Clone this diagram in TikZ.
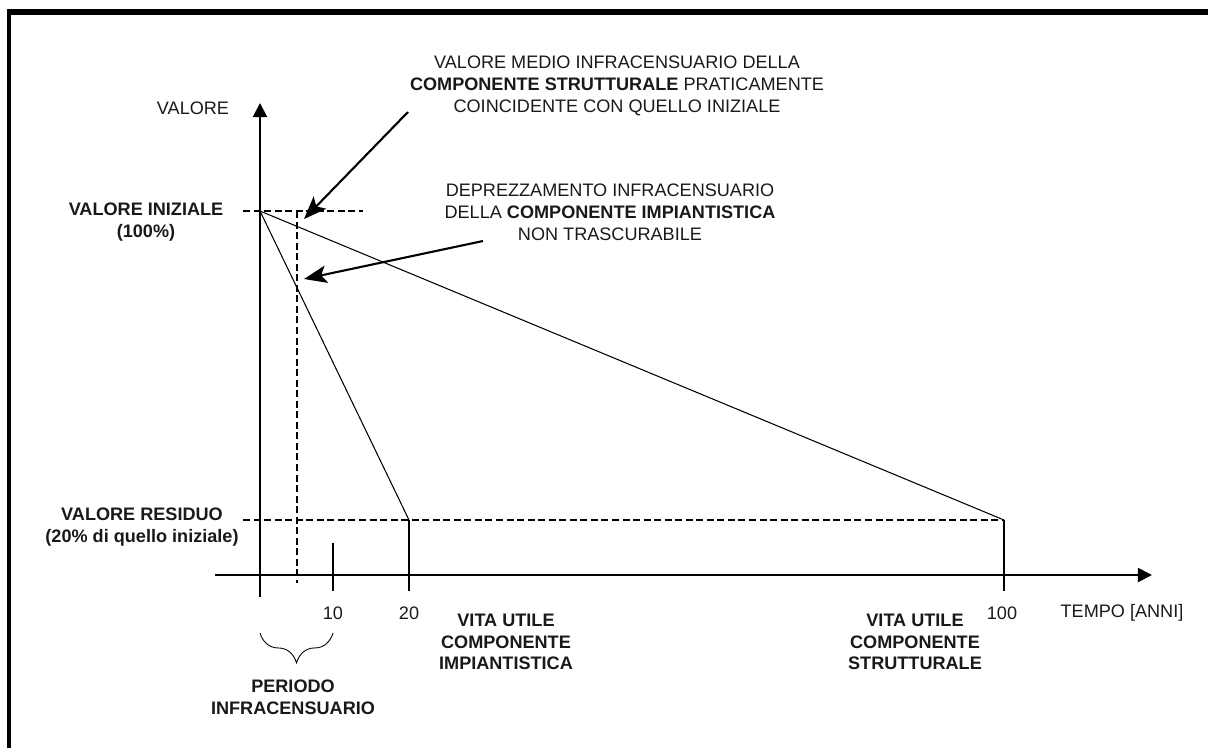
\documentclass[tikz,border=0pt]{standalone}
\usepackage{fontspec}
\setmainfont{Liberation Sans}
\usetikzlibrary{arrows.meta}
\usetikzlibrary{decorations.pathreplacing}

\begin{document}
\begin{tikzpicture}[x=0.02cm, y=-0.02cm, font=\fontsize{10.3}{12.4}\selectfont]
        % Definizione dei colori e degli stili
        \definecolor{testo}{RGB}{25,25,25}
        \tikzset{
            asse/.style={line width=1.1pt, -{Triangle[length=8pt,width=8pt]}},
            retta/.style={line width=0.6pt},
            tratteggio/.style={line width=0.6pt, dash pattern=on 4pt off 2pt},
            freccia/.style={line width=1.2pt, -{Stealth[length=13pt,width=10pt,inset=3pt]}},
            etichetta/.style={align=center, text=testo, inner sep=0pt}
        }
        \useasboundingbox (0,0) rectangle (1208,748);

        % Cornice (solo lato alto e sinistro)
        \draw[line width=3.4pt] (7,12) -- (1208,12);
        \draw[line width=2.4pt] (9,10) -- (9,748);

        % Punti notevoli
        \coordinate (ybase) at (260,597);
        \coordinate (ycima) at (260,103);
        \coordinate (xbase) at (215,575);
        \coordinate (xfine) at (1152,575);
        \coordinate (vi) at (260,211);
        \coordinate (fimp) at (409,520);
        \coordinate (fstr) at (1004,520);

        % Assi
        \draw[asse] (ybase) -- (ycima);
        \draw[asse] (xbase) -- (xfine);

        % Tacche sull'asse dei tempi
        \coordinate (t10a) at (333,543);
        \coordinate (t10b) at (333,591);
        \coordinate (t20b) at (409,591);
        \coordinate (t100b) at (1004,591);
        \draw[retta] (t10a) -- (t10b);
        \draw[retta] (fimp) -- (t20b);
        \draw[retta] (fstr) -- (t100b);

        % Linee tratteggiate
        \coordinate (vi0) at (243,211);
        \coordinate (vi1) at (363,211);
        \coordinate (vr0) at (243,520);
        \coordinate (med0) at (297,211);
        \coordinate (med1) at (297,583);
        \draw[tratteggio] (vi0) -- (vi1);
        \draw[tratteggio] (vr0) -- (fstr);
        \draw[tratteggio] (med0) -- (med1);

        % Rette di deprezzamento
        \draw[retta] (vi) -- (fimp);
        \draw[retta] (vi) -- (fstr);

        % Etichette degli assi
        \node[etichetta] (valore) at (193,108) {VALORE};
        \node[etichetta] (tempo) at (1122,613) {TEMPO [ANNI]};
        \node[etichetta] (n10) at (333,613) {10};
        \node[etichetta] (n20) at (409,613) {20};
        \node[etichetta] (n100) at (1002,613) {100};

        \node[etichetta, font=\fontsize{10.3}{12.4}\selectfont\bfseries] (iniziale) at (146,222) {VALORE INIZIALE\\(100\%)};
        \node[etichetta, font=\fontsize{10.3}{12.4}\selectfont\bfseries] (residuo) at (142,527) {VALORE RESIDUO\\(20\% di quello iniziale)};

        \node[etichetta, font=\fontsize{10.3}{12.4}\selectfont\bfseries] (vitaimp) at (506,642) {VITA UTILE\\COMPONENTE\\IMPIANTISTICA};
        \node[etichetta, font=\fontsize{10.3}{12.4}\selectfont\bfseries] (vitastr) at (915,642) {VITA UTILE\\COMPONENTE\\STRUTTURALE};

        % Periodo infracensuario
        \coordinate (gr0) at (260,633);
        \coordinate (gr1) at (333,633);
        \draw[decorate, decoration={brace, mirror, amplitude=17pt}, line width=0.5pt] (gr0) -- (gr1);
        \node[etichetta, font=\fontsize{10.3}{12.4}\selectfont\bfseries] (periodo) at (293,697) {PERIODO\\INFRACENSUARIO};

        % Note con frecce
        \node[etichetta] (testo1) at (617,86) {VALORE MEDIO INFRACENSUARIO DELLA\\\textbf{COMPONENTE STRUTTURALE} PRATICAMENTE\\COINCIDENTE CON QUELLO INIZIALE};
        \node[etichetta] (testo2) at (610,212) {DEPREZZAMENTO INFRACENSUARIO\\DELLA \textbf{COMPONENTE IMPIANTISTICA}\\NON TRASCURABILE};

        \coordinate (a1) at (408,112);
        \coordinate (p1) at (304,219);
        \coordinate (a2) at (483,241);
        \coordinate (p2) at (304,279);
        \draw[freccia] (a1) -- (p1);
        \draw[freccia] (a2) -- (p2);
    \end{tikzpicture}
\end{document}
